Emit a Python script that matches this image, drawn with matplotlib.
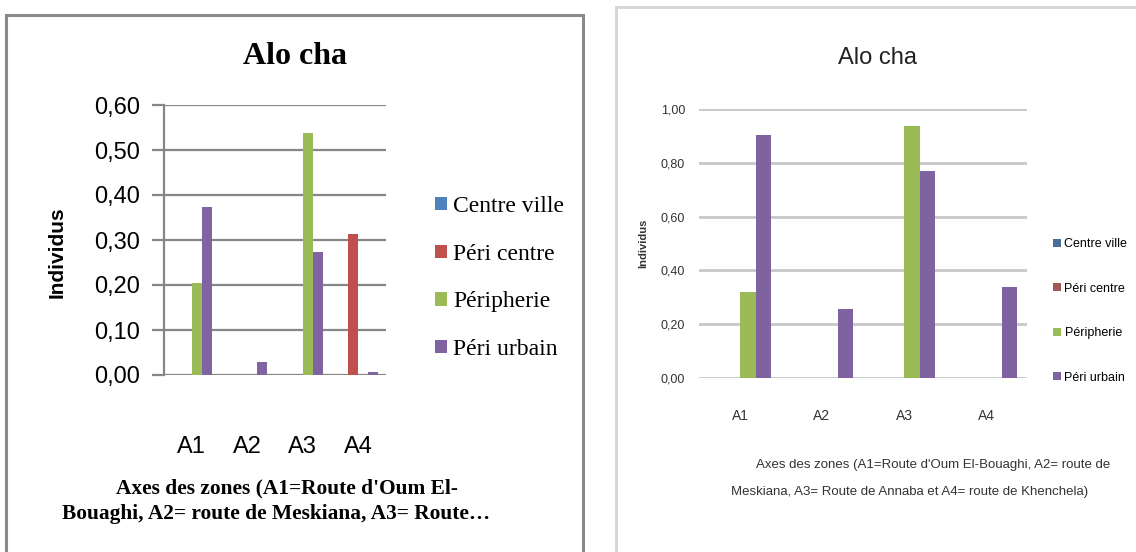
import matplotlib
matplotlib.use("Agg")
import matplotlib.pyplot as plt
import numpy as np
from matplotlib.patches import Rectangle

# data
zones = ["A1", "A2", "A3", "A4"]
series = ["Centre ville", "Péri centre", "Péripherie", "Péri urbain"]
colors = ["#4F81BD", "#C0504D", "#9BBB59", "#8064A2"]

left_centre_ville = [0.0, 0.0, 0.0, 0.0]
left_peri_centre = [0.0, 0.0, 0.0, 0.313]
left_peripherie = [0.204, 0.0, 0.538, 0.0]
left_peri_urbain = [0.374, 0.030, 0.273, 0.007]
left_ticks = [0.0, 0.1, 0.2, 0.3, 0.4, 0.5, 0.6]

right_centre_ville = [0.0, 0.0, 0.0, 0.0]
right_peri_centre = [0.0, 0.0, 0.0, 0.0]
right_peripherie = [0.319, 0.0, 0.936, 0.0]
right_peri_urbain = [0.905, 0.255, 0.770, 0.340]
right_ticks = [0.0, 0.2, 0.4, 0.6, 0.8, 1.0]

xlabel_left = ["Axes des zones (A1=Route d'Oum El-",
               "Bouaghi, A2= route de Meskiana, A3= Route…"]
xlabel_right = ["Axes des zones (A1=Route d'Oum El-Bouaghi, A2= route de",
                "Meskiana, A3= Route de Annaba et A4= route de Khenchela)"]

W, H = 1136, 552
fig = plt.figure(figsize=(W / 100, H / 100), dpi=100)


def fx(px):
    return px / W


def fy(py):
    return 1 - py / H


def fmt(v):
    return f"{v:.2f}".replace(".", ",")


# panel frames
fig.add_artist(Rectangle((fx(6), fy(560)), fx(577), (560 - 15) / H, transform=fig.transFigure,
                         fill=False, edgecolor="#8a8a8a", linewidth=2.2))
fig.add_artist(Rectangle((fx(616), fy(560)), fx(560), (560 - 7) / H, transform=fig.transFigure,
                         fill=False, edgecolor="#d4d4d4", linewidth=2.0))

# ---------- left chart ----------
ax = fig.add_axes([fx(164), fy(375), fx(386 - 164), (375 - 105) / H])
x = np.arange(len(zones))
w = 0.18
left_data = [left_centre_ville, left_peri_centre, left_peripherie, left_peri_urbain]
handles = []
for i, vals in enumerate(left_data):
    b = ax.bar(x + (i - 1.5) * w, vals, w, color=colors[i], zorder=3, label=series[i])
    handles.append(b)
ax.set_xlim(-0.5, 3.5)
ax.set_ylim(0, 0.6)
ax.set_yticks(left_ticks)
ax.set_yticklabels([fmt(v) for v in left_ticks], fontsize=17, family="Liberation Sans")
ax.set_xticks(x)
ax.set_xticklabels(zones, fontsize=17, family="Liberation Sans")
ax.grid(axis="y", color="#868686", linewidth=1.6, zorder=0)
for s in ["top", "right", "bottom"]:
    ax.spines[s].set_visible(False)
ax.spines["left"].set_color("#868686")
ax.spines["left"].set_linewidth(1.6)
ax.tick_params(axis="y", length=9, width=1.6, color="#868686", pad=8)
ax.tick_params(axis="x", length=0, pad=44)
fig.text(fx(57), fy(252), "Individus", rotation=90, ha="center", va="center",
         fontsize=15, fontweight="bold", family="Liberation Sans")
fig.text(fx(295), fy(57), "Alo cha", ha="center", va="center", fontsize=23,
         fontweight="bold", family="Liberation Serif")
fig.text(fx(287), fy(488), xlabel_left[0], ha="center", va="center", fontsize=15.4,
         fontweight="bold", family="Liberation Serif")
fig.text(fx(276), fy(514), xlabel_left[1], ha="center", va="center", fontsize=15.4,
         fontweight="bold", family="Liberation Serif")
ax.legend(handles=handles, loc="center left", bbox_to_anchor=(fx(414), fy(278)),
          bbox_transform=fig.transFigure, frameon=False,
          prop={"family": "Liberation Serif", "size": 17},
          handlelength=0.5, handleheight=0.5, handletextpad=0.25, labelspacing=1.13)

# ---------- right chart ----------
narrow = ["Liberation Sans", "DejaVu Sans"]
ax2 = fig.add_axes([fx(699), fy(378), fx(1027 - 699), (378 - 109) / H])
w2 = 0.19
right_data = [right_centre_ville, right_peri_centre, right_peripherie, right_peri_urbain]
rcolors = ["#4A6E98", "#A05A55", "#9BBB59", "#7E63A0"]
handles2 = []
for i, vals in enumerate(right_data):
    b = ax2.bar(x + (i - 1.5) * w2, vals, w2, color=rcolors[i], zorder=3, label=series[i])
    handles2.append(b)
ax2.set_xlim(-0.5, 3.5)
ax2.set_ylim(0, 1.0)
ax2.set_yticks(right_ticks)
ax2.set_yticklabels([fmt(v) for v in right_ticks], fontsize=9, family=narrow, color="#333333")
ax2.set_xticks(x)
ax2.set_xticklabels(zones, fontsize=10, family=narrow, color="#333333")
ax2.grid(axis="y", color="#c8c8c8", linewidth=2.0, zorder=0)
for s in ["top", "right", "bottom", "left"]:
    ax2.spines[s].set_visible(False)
ax2.tick_params(axis="y", length=0, pad=10)
ax2.tick_params(axis="x", length=0, pad=22)
fig.text(fx(643), fy(243), "Individus", rotation=90, ha="center", va="center",
         fontsize=8, fontweight="bold", family=narrow, color="#333333")
fig.text(fx(878), fy(58), "Alo cha", ha="center", va="center", fontsize=17,
         family=narrow, color="#222222")
fig.text(fx(933), fy(465), xlabel_right[0], ha="center", va="center", fontsize=9.5,
         family=narrow, color="#333333")
fig.text(fx(910), fy(492), xlabel_right[1], ha="center", va="center", fontsize=9.5,
         family=narrow, color="#333333")
ax2.legend(handles=handles2, loc="center left", bbox_to_anchor=(fx(1042), fy(311)),
           bbox_transform=fig.transFigure, frameon=False,
           prop={"family": narrow, "size": 9},
           handlelength=0.6, handleheight=0.6, handletextpad=0.3, labelspacing=2.6)

fig.savefig("out.png", dpi=100)
